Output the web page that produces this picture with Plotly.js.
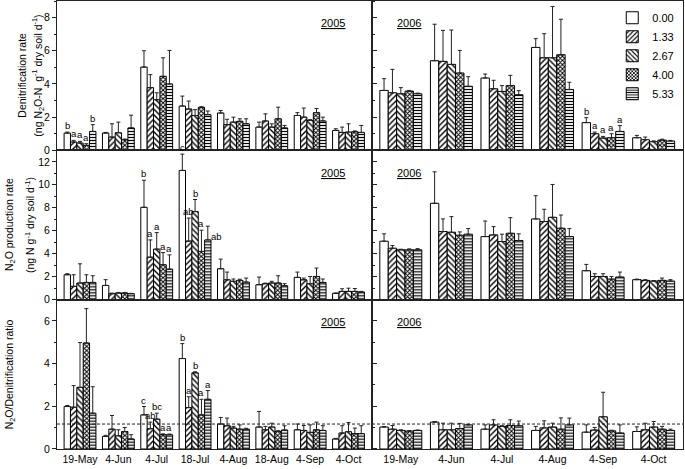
<!DOCTYPE html>
<html><head><meta charset="utf-8">
<script src="https://cdn.plot.ly/plotly-3.0.1.min.js"></script>
<style>html,body{margin:0;padding:0;background:#fff}#chart{width:685px;height:469px}</style>
</head><body><div id="chart"></div>
<script>
// ---- categories ----
const dates2005 = ['19-May','4-Jun','4-Jul','18-Jul','4-Aug','18-Aug','4-Sep','4-Oct'];
const dates2006 = ['19-May','4-Jun','4-Jul','4-Aug','4-Sep','4-Oct'];
const levels = ['0.00','1.33','2.67','4.00','5.33'];

// ---- Denitrification rate (rows = levels, cols = dates) ----
const denit2005 = [
  [1.04, 1.04, 5.02, 2.67, 2.25, 1.40, 2.10, 1.20],
  [0.50, 0.80, 3.78, 2.49, 1.55, 1.77, 2.00, 1.08],
  [0.44, 1.06, 3.05, 2.10, 1.70, 1.40, 1.80, 1.10],
  [0.30, 0.64, 4.46, 2.59, 1.75, 1.90, 2.27, 1.12],
  [1.14, 1.35, 4.00, 2.15, 1.60, 1.35, 1.77, 1.08]
];
const denit2005Err = [
  [0.06, 0.04, 0.98, 0.60, 0.15, 0.30, 0.17, 0.10],
  [0.10, 0.80, 0.78, 0.48, 0.32, 0.43, 0.55, 0.32],
  [0.10, 0.64, 0.42, 0.35, 0.30, 0.20, 0.05, 0.50],
  [0.10, 0.04, 1.12, 0.04, 0.15, 0.70, 0.25, 0.05],
  [0.41, 0.77, 2.02, 0.22, 0.30, 0.15, 0.23, 0.42]
];
const denit2006 = [
  [3.61, 5.40, 4.36, 6.20, 1.67, 0.76],
  [3.47, 5.36, 3.71, 5.58, 1.00, 0.64],
  [3.41, 5.18, 3.55, 5.58, 0.74, 0.52],
  [3.57, 4.66, 3.90, 5.76, 0.76, 0.62],
  [3.41, 3.86, 3.35, 3.67, 1.14, 0.56]
];
const denit2006Err = [
  [0.71, 2.20, 0.24, 0.53, 0.30, 0.14],
  [1.41, 1.87, 0.51, 1.45, 0.10, 0.16],
  [0.37, 2.07, 0.35, 3.09, 0.10, 0.05],
  [0.04, 1.36, 0.62, 2.14, 0.24, 0.05],
  [0.04, 0.58, 0.25, 0.43, 0.35, 0.04]
];

// ---- N2O production rate ----
const n2o2005 = [
  [2.17, 1.24, 8.04, 11.25, 2.69, 1.30, 1.94, 0.55],
  [1.16, 0.52, 3.70, 5.10, 1.73, 1.39, 1.73, 0.72],
  [1.45, 0.58, 4.40, 7.67, 1.60, 1.45, 1.39, 0.72],
  [1.50, 0.58, 3.04, 4.20, 1.68, 1.45, 2.02, 0.72],
  [1.50, 0.52, 2.66, 5.20, 1.53, 1.21, 1.50, 0.67]
];
const n2o2005Err = [
  [0.09, 0.50, 2.36, 1.42, 0.84, 0.67, 0.46, 0.03],
  [1.01, 0.05, 1.50, 2.00, 0.67, 0.05, 0.15, 0.23],
  [1.67, 0.05, 1.44, 1.05, 0.20, 0.15, 0.63, 0.28],
  [0.67, 0.05, 1.06, 1.85, 0.10, 0.63, 0.73, 0.25],
  [0.58, 0.03, 1.24, 1.20, 0.35, 0.18, 0.30, 0.05]
];
const n2o2006 = [
  [5.09, 8.39, 5.49, 7.03, 2.52, 1.74],
  [4.48, 5.93, 5.64, 6.80, 2.02, 1.68],
  [4.34, 5.87, 5.06, 7.17, 2.02, 1.62],
  [4.34, 5.61, 5.78, 6.22, 1.79, 1.68],
  [4.34, 5.70, 5.15, 5.49, 1.97, 1.62]
];
const n2o2006Err = [
  [0.64, 2.74, 1.36, 2.02, 0.55, 0.05],
  [0.23, 1.10, 0.72, 1.07, 0.24, 0.06],
  [0.05, 1.36, 0.64, 2.86, 0.24, 0.04],
  [0.08, 0.29, 1.36, 1.15, 0.23, 0.20],
  [0.10, 0.49, 0.58, 0.70, 0.43, 0.12]
];

// ---- N2O / Denitrification ratio ----
const ratio2005 = [
  [1.99, 0.59, 1.60, 4.24, 1.17, 1.03, 0.90, 0.47],
  [1.96, 0.93, 0.95, 1.94, 1.09, 0.90, 0.87, 0.75],
  [2.89, 0.62, 1.40, 3.57, 0.98, 1.03, 0.78, 0.81],
  [4.97, 0.82, 0.67, 1.60, 0.93, 0.82, 0.90, 0.72],
  [1.68, 0.47, 0.67, 2.33, 0.93, 0.89, 0.87, 0.72]
];
const ratio2005Err = [
  [0.05, 0.05, 0.39, 0.70, 0.31, 0.73, 0.27, 0.03],
  [1.01, 0.64, 0.31, 0.51, 0.36, 0.16, 0.23, 0.34],
  [2.10, 0.28, 0.28, 0.05, 0.08, 0.18, 0.35, 0.43],
  [1.61, 0.19, 0.04, 0.73, 0.20, 0.04, 0.36, 0.26],
  [1.24, 0.20, 0.03, 0.41, 0.04, 0.20, 0.22, 0.37]
];
const ratio2006 = [
  [1.03, 1.26, 0.93, 0.87, 0.79, 0.82],
  [0.93, 0.90, 1.13, 0.99, 0.89, 0.90],
  [0.87, 0.90, 1.06, 1.03, 1.51, 1.03],
  [0.84, 0.96, 1.10, 0.93, 0.85, 0.93],
  [0.87, 1.13, 1.09, 1.13, 0.75, 0.87]
];
const ratio2006Err = [
  [0.02, 0.03, 0.20, 0.19, 0.34, 0.22],
  [0.17, 0.31, 0.24, 0.33, 0.12, 0.31],
  [0.03, 0.31, 0.03, 0.18, 1.15, 0.26],
  [0.02, 0.24, 0.27, 0.53, 0.03, 0.13],
  [0.02, 0.03, 0.22, 0.32, 0.38, 0.06]
];
const ratioReference = 1.17;

// ---- significance letters (per date group, one per level) ----
const lettersDenit2005_19May = ['b','a','a','a','b'];
const lettersDenit2006_4Sep  = ['b','a','a','a','a'];
const lettersN2O2005_4Jul    = ['b','a','a','a','a'];
const lettersN2O2005_18Jul   = ['c','ab','b','a','ab'];
const lettersRatio2005_4Jul  = ['c','ab','bc','a','a'];
const lettersRatio2005_18Jul = ['b','a','b','a','a'];

// ---- styling ----
const FONT = 'Liberation Sans, Arial, sans-serif';
const BARGAP = 0.17;
const patterns = [
  null,
  {shape:'/', fgcolor:'#000', bgcolor:'#fff', size:4, solidity:0.35},
  {shape:'\\', fgcolor:'#000', bgcolor:'#fff', size:4, solidity:0.35},
  {shape:'x', fgcolor:'#000', bgcolor:'#fff', size:3, solidity:0.55},
  {shape:'-', fgcolor:'#000', bgcolor:'#fff', size:3, solidity:0.4}
];

const panels = [
  {m:denit2005, e:denit2005Err, c:dates2005, xa:'x',  ya:'y'},
  {m:denit2006, e:denit2006Err, c:dates2006, xa:'x2', ya:'y'},
  {m:n2o2005,   e:n2o2005Err,   c:dates2005, xa:'x',  ya:'y2'},
  {m:n2o2006,   e:n2o2006Err,   c:dates2006, xa:'x2', ya:'y2'},
  {m:ratio2005, e:ratio2005Err, c:dates2005, xa:'x',  ya:'y3'},
  {m:ratio2006, e:ratio2006Err, c:dates2006, xa:'x2', ya:'y3'}
];

const traces = [];
panels.forEach((p, pi) => {
  levels.forEach((lv, i) => {
    const marker = {color:'#fff', line:{color:'#000', width:1}};
    if (patterns[i]) marker.pattern = patterns[i];
    traces.push({
      type:'bar', x:p.c, y:p.m[i], name:lv, xaxis:p.xa, yaxis:p.ya,
      legendgroup:lv, showlegend: pi === 0, marker:marker,
      error_y:{type:'data', symmetric:false, array:p.e[i], arrayminus:p.e[i].map(()=>0),
               color:'#222', thickness:1, width:2},
      hoverinfo:'skip'
    });
  });
});

const annotations = [];
const barW = (1 - BARGAP) / levels.length;
// side: indices of letters drawn beside (right of) the error bar instead of above it
function addLetters(labels, means, errs, cats, date, xa, ya, side) {
  const g = cats.indexOf(date);
  labels.forEach((t, i) => {
    const beside = side && side.indexOf(i) >= 0;
    annotations.push({
      text:t, xref:xa, yref:ya, x:g + (i - 2) * barW, y:means[i][g] + errs[i][g],
      xanchor: beside ? 'left' : 'center', yanchor: beside ? 'top' : 'bottom',
      xshift: beside ? 1 : 0, yshift: beside ? -3 : -1, showarrow:false,
      font:{family:FONT, size:9.5, color:'#000'}
    });
  });
}
addLetters(lettersDenit2005_19May, denit2005, denit2005Err, dates2005, '19-May', 'x', 'y');
addLetters(lettersDenit2006_4Sep, denit2006, denit2006Err, dates2006, '4-Sep', 'x2', 'y');
addLetters(lettersN2O2005_4Jul, n2o2005, n2o2005Err, dates2005, '4-Jul', 'x', 'y2');
addLetters(lettersN2O2005_18Jul, n2o2005, n2o2005Err, dates2005, '18-Jul', 'x', 'y2', [4]);
addLetters(lettersRatio2005_4Jul, ratio2005, ratio2005Err, dates2005, '4-Jul', 'x', 'y3');
addLetters(lettersRatio2005_18Jul, ratio2005, ratio2005Err, dates2005, '18-Jul', 'x', 'y3');

// year labels
['y','y2','y3'].forEach(ya => {
  annotations.push({text:'<u>2005</u>', xref:'x domain', yref:ya+' domain', x:0.878, y:0.85,
    xanchor:'center', yanchor:'middle', showarrow:false, font:{family:FONT, size:11, color:'#000'}});
  annotations.push({text:'<u>2006</u>', xref:'x2 domain', yref:ya+' domain', x:0.12, y:0.85,
    xanchor:'center', yanchor:'middle', showarrow:false, font:{family:FONT, size:11, color:'#000'}});
});

// y-axis titles (placed as rotated text)
const L = 57, PW = 626;
const px = p => (p - L) / PW;
function ytitle(text, xpix, ya) {
  annotations.push({text:text, xref:'paper', yref:ya+' domain', x:px(xpix), y:0.5,
    xanchor:'center', yanchor:'middle', textangle:-90, showarrow:false,
    font:{family:FONT, size:10.5, color:'#000'}});
}
ytitle('Denitrification rate', 22, 'y');
ytitle('(ng N<sub>2</sub>O-N  g<sup>-1</sup> dry soil d<sup>-1</sup>)', 38, 'y');
ytitle('N<sub>2</sub>O production rate', 10, 'y2');
ytitle('(ng N g<sup>-1</sup> dry soil d<sup>-1</sup>)', 29, 'y2');
ytitle('N<sub>2</sub>O/Denitrification ratio', 10, 'y3');

const xCommon = {type:'category', showline:true, mirror:'all', linecolor:'#222', linewidth:1,
  ticks:'', showgrid:false, zeroline:false, tickfont:{family:FONT, size:10.5, color:'#000'}, anchor:'y3'};
const yCommon = {showline:true, mirror:'all', linecolor:'#222', linewidth:1, ticks:'outside',
  ticklen:4, tickwidth:1, tickcolor:'#222', showgrid:false, zeroline:false, anchor:'x',
  tickfont:{family:FONT, size:10.5, color:'#000'}, dtick:2, tick0:0,
  minor:{ticks:'outside', ticklen:2, dtick:1, tickcolor:'#222', showgrid:false}};

const DIV = 0.5024;
const layout = {
  width:685, height:469,
  margin:{l:57, r:2, t:1, b:20},
  paper_bgcolor:'#fff', plot_bgcolor:'#fff',
  font:{family:FONT, size:10.5, color:'#000'},
  barmode:'group', bargap:BARGAP, bargroupgap:0,
  showlegend:true,
  legend:{x:0.887, y:0.995, xanchor:'left', yanchor:'top', bgcolor:'rgba(0,0,0,0)',
          font:{family:FONT, size:11, color:'#000'}, tracegroupgap:0, itemwidth:30},
  xaxis: Object.assign({}, xCommon, {domain:[0, DIV], range:[-0.6, 7.6]}),
  xaxis2: Object.assign({}, xCommon, {domain:[DIV, 1], range:[-0.58, 5.58]}),
  yaxis: Object.assign({}, yCommon, {domain:[2/3, 1], range:[0, 9]}),
  yaxis2: Object.assign({}, yCommon, {domain:[1/3, 2/3], range:[0, 13]}),
  yaxis3: Object.assign({}, yCommon, {domain:[0, 1/3], range:[0, 7]}),
  shapes:[{type:'line', xref:'paper', x0:0, x1:1, yref:'y3', y0:ratioReference, y1:ratioReference,
           line:{color:'#222', width:1, dash:'3px,2px'}}],
  annotations:annotations
};

Plotly.newPlot('chart', traces, layout, {displayModeBar:false, staticPlot:true});
</script>
</body></html>
